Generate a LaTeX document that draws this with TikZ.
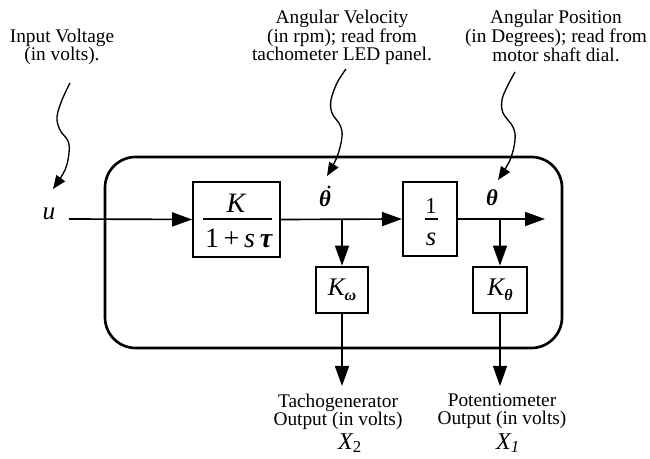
\documentclass[tikz,border=0pt]{standalone}
\usepackage{fontspec}
\setmainfont{Liberation Serif}
\usetikzlibrary{arrows.meta}
\begin{document}
\begin{tikzpicture}[x=0.75pt,y=-0.75pt,
  lbl/.style={align=center,inner sep=0pt,font=\rmfamily\fontsize{14.5}{13.2}\selectfont},
  sym/.style={inner sep=0pt,font=\fontsize{19}{19}\selectfont\itshape},
  blk/.style={draw,line width=1.5pt,inner sep=0pt},
  flow/.style={line width=1.25pt,-{Triangle[length=15pt,width=10.5pt]}},
  squig/.style={line width=1pt,-{Triangle[length=10pt,width=8pt]}},
  frame/.style={line width=2pt,rounded corners=23pt}]
\useasboundingbox (0,0) rectangle (650,459);
% container
\draw[frame] (105,157) rectangle (562,348);
% blocks
\node[blk,minimum width=65pt,minimum height=56pt] (b1) at (236.5,219.5) {};
\node[blk,minimum width=40.5pt,minimum height=56pt] (b2) at (430,219) {};
\node[blk,minimum width=39pt,minimum height=35pt] (kw) at (342,290) {};
\node[blk,minimum width=40pt,minimum height=35pt] (kt) at (500,290) {};
% block contents
\node[sym,font=\fontsize{21}{21}\selectfont\itshape] (num1) at (236,203) {K};
\node[inner sep=0pt,font=\fontsize{21}{21}\selectfont] (den1) at (239,238) {1\,+\,\textit{s}\,\textbf{\textit{τ}}};
\draw[line width=1.5pt] (203,219) -- (272,219);
\node[inner sep=0pt,font=\fontsize{17}{17}\selectfont] (num2) at (431,206) {1};
\node[sym,font=\fontsize{20}{20}\selectfont\itshape] (den2) at (431,239) {s};
\draw[line width=1.2pt] (425,219) -- (438,219);
\node[sym] (kwt) at (342,290) {K\raisebox{-4pt}{\fontsize{12}{12}\selectfont\bfseries\itshape ω}};
\node[sym] (ktt) at (500,290) {K\raisebox{-4pt}{\fontsize{12}{12}\selectfont\bfseries\itshape θ}};
% signal labels
\node[sym] (u) at (49,214) {u};
\node[inner sep=0pt,font=\fontsize{17}{17}\selectfont\bfseries\itshape] (thd) at (325,199) {θ};
\fill (329,187) circle (1.6);
\node[inner sep=0pt,font=\fontsize{17}{17}\selectfont\bfseries\itshape] (th) at (492,198) {θ};
% main flow
\coordinate (uin) at (69,219);
\coordinate (out) at (545,219);
\draw[flow] (uin) -- (b1.west);
\draw[flow] (b1.east) -- (b2.west);
\draw[flow] (b2.east) -- (out);
\coordinate (jw) at (kw.north |- b1.east);
\coordinate (jt) at (kt.north |- b2.east);
\draw[flow] (jw) -- (kw.north);
\draw[flow,line width=1pt] (jt) -- (kt.north);
\coordinate (ow) at (342,386);
\coordinate (ot) at (500,386);
\draw[flow] (kw.south) -- (ow);
\draw[flow,line width=1pt] (kt.south) -- (ot);
% text labels
\node[lbl] (iv) at (62,47) {Input Voltage\\(in volts).};
\node[lbl] (av) at (342,37) {Angular Velocity\\(in rpm); read from\\tachometer LED panel.};
\node[lbl] (ap) at (556,36) {Angular Position\\(in Degrees); read from\\motor shaft dial.};
\node[lbl] (tg) at (338,412) {Tachogenerator\\Output (in volts)};
\node[lbl] (pm) at (502,411) {Potentiometer\\Output (in volts)};
\node[sym,font=\fontsize{18}{18}\selectfont\itshape] (x2) at (350,443) {X\textsubscript{\upshape 2}};
\node[sym,font=\fontsize{18}{18}\selectfont\itshape] (x1) at (508,443) {X\textsubscript{1}};
% squiggly pointers
\coordinate (s1) at (70,83);
\coordinate (e1) at (53,189);
\draw[squig] plot[smooth,tension=0.6] coordinates {(s1) (62,100) (57,117) (60,130) (68,141) (69,153) (65,170) (e1)};
\coordinate (s2) at (346,69);
\coordinate (e2) at (327,176);
\draw[squig] plot[smooth,tension=0.6] coordinates {(s2) (337,83) (331,100) (332,113) (340,125) (342,137) (337,157) (e2)};
\coordinate (s3) at (515,72);
\coordinate (e3) at (498,180);
\draw[squig] plot[smooth,tension=0.6] coordinates {(s3) (507,87) (502,100) (503,113) (513,127) (515,140) (510,160) (e3)};
\end{tikzpicture}
\end{document}
